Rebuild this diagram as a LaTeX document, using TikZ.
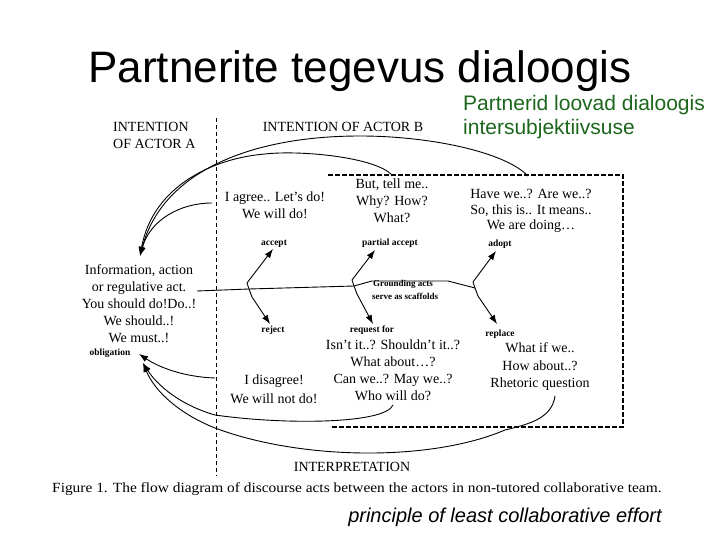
\documentclass[tikz,border=0pt]{standalone}
\usepackage{graphicx}
\usepackage{fontspec}
\setmainfont{Liberation Serif}
\newfontfamily\arialfont{Liberation Sans}
\usetikzlibrary{arrows.meta}
\definecolor{dgreen}{RGB}{28,102,28}
\begin{document}
\begin{tikzpicture}[x=1pt,y=-1pt,
  txt/.style={align=center, inner sep=0pt, font=\fontsize{14}{17}\selectfont},
  hdr/.style={inner sep=0pt, font=\fontsize{14}{17}\selectfont},
  lbl/.style={inner sep=0pt, font=\fontsize{9.5}{11}\selectfont\bfseries},
  conn/.style={line width=0.9pt},
  arr/.style={-{Latex[length=9pt,width=6.5pt]}, line width=0.9pt},
  boxline/.style={line width=1.5pt, dash pattern=on 5pt off 2pt},
  sepline/.style={line width=0.7pt, dash pattern=on 4pt off 3pt}]
\useasboundingbox (0,0) rectangle (720,540);

% title and side texts
\node[anchor=base, inner sep=0pt, font=\arialfont\fontsize{44}{50}\selectfont] (title) at (360,83) {Partnerite tegevus dialoogis};
\node[anchor=base west, inner sep=0pt, text=dgreen, font=\arialfont\fontsize{21}{24}\selectfont] (green1) at (463,111) {Partnerid loovad dialoogis};
\node[anchor=base west, inner sep=0pt, text=dgreen, font=\arialfont\fontsize{21}{24}\selectfont] (green2) at (463,135) {intersubjektiivsuse};
\node[anchor=base, inner sep=0pt, font=\arialfont\itshape\fontsize{20}{24}\selectfont] (principle) at (505,522) {principle of least collaborative effort};

% headers
\node[hdr, anchor=base west] (intA1) at (113,132) {INTENTION};
\node[hdr, anchor=base west] (intA2) at (113,149) {OF ACTOR A};
\node[hdr, anchor=base] (intB) at (343,132) {INTENTION OF ACTOR B};
\node[hdr, anchor=base] (interp) at (352,471) {INTERPRETATION};
\node[anchor=base west, inner sep=0pt, font=\fontsize{14}{16}\selectfont] (caption) at (52,492) {\scalebox{1.1}[1]{Figure 1. The flow diagram of discourse acts between the actors in non-tutored collaborative team.}};

% separators
\draw[sepline] (216,118) -- (216,476);
\draw[boxline] (328,175) -- (623,175) -- (623,427) -- (330,427);

% text blocks
\node[txt] (info) at (139,304) {Information, action\\or regulative act.\\You should do!Do..!\\We should..!\\We must..!};
\node[txt] (agree) at (275,205) {I agree.. Let’s do!\\We will do!};
\node[txt] (but) at (392,201) {But, tell me..\\Why? How?\\What?};
\node[txt, font=\fontsize{14}{15.5}\selectfont] (have) at (531,211) {Have we..? Are we..?\\So, this is.. It means..\\We are doing…};
\node[txt] (isnt) at (393,370) {Isn’t it..? Shouldn’t it..?\\What about…?\\Can we..? May we..?\\Who will do?};
\node[txt, font=\fontsize{14}{18.5}\selectfont] (disagree) at (274,389) {I disagree!\\We will not do!};
\node[txt, font=\fontsize{14}{17.5}\selectfont] (whatif) at (540,367) {What if we..\\How about..?\\Rhetoric question};

% small labels
\node[lbl, anchor=base] (accept) at (274,245) {accept};
\node[lbl, anchor=base] (partial) at (390,245) {partial accept};
\node[lbl, anchor=base] (adopt) at (500,246) {adopt};
\node[lbl, anchor=base] (reject) at (273,332) {reject};
\node[lbl, anchor=base] (request) at (372,332) {request for};
\node[lbl, anchor=base] (replace) at (500,336) {replace};
\node[lbl, anchor=base] (oblig) at (110,355) {obligation};
\node[lbl, anchor=base west, font=\fontsize{9}{11}\selectfont\bfseries] (ground1) at (373,286) {Grounding acts};
\node[lbl, anchor=base west, font=\fontsize{9}{11}\selectfont\bfseries] (ground2) at (372,299) {serve as scaffolds};

% fishbone
\coordinate (lineL) at (197,291);
\coordinate (F1) at (249,289);
\coordinate (F2) at (354,286);
\coordinate (F3) at (475,288);
\draw[conn] (lineL) -- (F1) -- (F2) -- (372,281) -- (448,281) -- (F3);
\coordinate (tAccept) at (273,249);
\coordinate (tReject) at (270,324);
\coordinate (tPartial) at (375,250);
\coordinate (tRequest) at (373,324);
\coordinate (tAdopt) at (496,251);
\coordinate (tReplace) at (497,324);
\draw[arr] (F1) -- ++(-2,-6) -- (tAccept);
\draw[arr] (F1) -- ++(3,8) -- (tReject);
\draw[arr] (F2) -- ++(-2,-6) -- (tPartial);
\draw[arr] (F2) -- ++(3,8) -- (tRequest);
\draw[arr] (F3) -- ++(-2,-6) -- (tAdopt);
\draw[arr] (F3) -- ++(3,8) -- (tReplace);

% feedback curves to information
\coordinate (sHave) at (528,176);
\coordinate (sBut) at (392,175);
\coordinate (sAgree) at (212,203);
\coordinate (tInfo) at (140,256);
\draw[arr] (sHave) .. controls (505,152) and (430,136) .. (360,136)
  .. controls (250,136) and (162,172) .. (tInfo);
\draw[arr] (sBut) .. controls (375,157) and (300,150) .. (265,154)
  .. controls (215,158) and (153,185) .. (tInfo);
\draw[arr] (sAgree) .. controls (180,203) and (150,220) .. (tInfo);

% feedback curves to obligation
\coordinate (sDis) at (215,378);
\coordinate (sWho) at (393,405);
\coordinate (sRhet) at (555,396);
\coordinate (tObl1) at (139,354);
\coordinate (tObl2) at (143,363);
\draw[arr] (sDis) .. controls (185,377) and (160,368) .. (tObl1);
\draw[arr] (sWho) .. controls (385,424) and (285,425) .. (215,415)
  .. controls (180,405) and (157,385) .. (tObl2);
\draw[arr] (sRhet) .. controls (552,418) and (530,424) .. (505,430)
  .. controls (430,462) and (300,460) .. (215,428)
  .. controls (180,414) and (155,392) .. (tObl2);
\end{tikzpicture}
\end{document}
